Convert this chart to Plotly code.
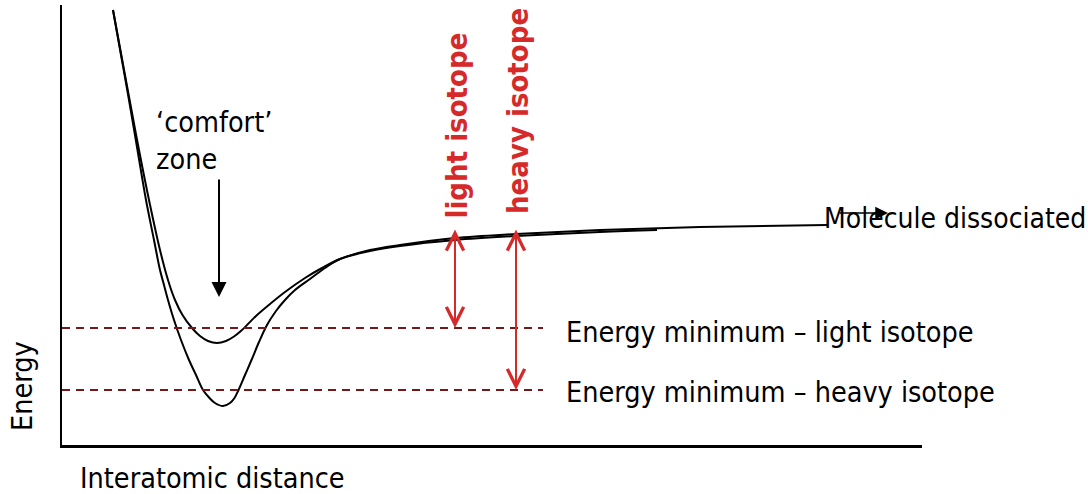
import plotly.graph_objects as go

# Potential energy curves (arbitrary units): interatomic distance vs energy
light_r = [0.51, 0.593, 0.676, 0.77, 0.87, 0.98, 1.06, 1.13, 1.205, 1.30, 1.38,
           1.46, 1.55, 1.64, 1.72, 1.80, 1.94, 2.08, 2.23, 2.43, 2.60, 2.78, 3.08,
           3.38, 3.93, 4.54, 5.38, 6.38, 7.65]
light_e = [4.35, 3.90, 3.45, 2.95, 2.45, 1.95, 1.65, 1.45, 1.30, 1.17, 1.09,
           1.04, 1.02, 1.04, 1.085, 1.15, 1.29, 1.41, 1.53, 1.67, 1.77, 1.86, 1.95,
           2.00, 2.07, 2.11, 2.15, 2.18, 2.20]

heavy_r = [0.51, 0.59, 0.67, 0.755, 0.84, 0.92, 0.98, 1.02, 1.06, 1.12, 1.19, 1.27,
           1.34, 1.41, 1.475, 1.53, 1.61, 1.68, 1.725, 1.765, 1.83, 1.895, 1.97, 2.05,
           2.14, 2.23, 2.33, 2.48, 2.63, 2.78, 3.08, 3.38, 3.93, 4.54, 5.38, 5.95]
heavy_e = [4.35, 3.90, 3.45, 2.95, 2.45, 2.05, 1.75, 1.60, 1.45, 1.25, 1.05, 0.85,
           0.70, 0.55, 0.47, 0.42, 0.39, 0.42, 0.47, 0.55, 0.70, 0.85, 1.03, 1.20,
           1.34, 1.45, 1.55, 1.66, 1.77, 1.86, 1.94, 1.99, 2.05, 2.09, 2.13, 2.15]

# Zero-point energy levels and the dissociation limit
level_names = ["light isotope", "heavy isotope"]
level_energy = [1.17, 0.55]
level_span = [0.0, 4.81]
dissociation_energy = 2.17
gap_arrow_r = [3.93, 4.54]

# "comfort zone" pointer and dissociation pointer
comfort_r = 1.57
comfort_from, comfort_to = 2.67, 1.48
dissoc_from, dissoc_to, dissoc_e = 7.76, 8.26, 2.32

RED = "#d62a2a"
DARKRED = "#741818"
FONT = "DejaVu Sans Condensed, DejaVu Sans"
FS = 28.5

fig = go.Figure()

for r, e in ((light_r, light_e), (heavy_r, heavy_e)):
    fig.add_trace(go.Scatter(x=r, y=e, mode="lines",
                             line=dict(color="black", width=2, shape="spline", smoothing=1.0),
                             hoverinfo="skip", showlegend=False))

for e in level_energy:
    fig.add_trace(go.Scatter(x=level_span, y=[e, e], mode="lines",
                             line=dict(color=DARKRED, width=2.2, dash="8px,6px"),
                             hoverinfo="skip", showlegend=False))

annotations = []

# double-headed arrows between each energy minimum and the dissociation limit
for r, e in zip(gap_arrow_r, level_energy):
    annotations.append(dict(
        x=r, y=e, ax=r, ay=dissociation_energy, xref="x", yref="y",
        axref="x", ayref="y", text="", showarrow=True,
        arrowside="end+start", arrowhead=5, startarrowhead=5,
        arrowsize=1.7, startarrowsize=1.7, arrowwidth=2, arrowcolor=RED,
        standoff=0, startstandoff=0))

# vertical red labels
label_pos = [(3.94, 3.195), (4.56, 3.34)]
for name, (r, e) in zip(level_names, label_pos):
    annotations.append(dict(
        x=r, y=e, xref="x", yref="y", text=f"<b>{name}</b>", textangle=-90,
        showarrow=False, font=dict(family=FONT, size=29, color=RED),
        xanchor="center", yanchor="middle"))

# level captions
caption_y = [1.13, 0.53]
for name, y in zip(level_names, caption_y):
    annotations.append(dict(x=5.02, y=y, xref="x", yref="y",
                            text=f"Energy minimum – {name}", showarrow=False,
                            xanchor="left", yanchor="middle",
                            font=dict(family=FONT, size=FS, color="black")))

# comfort zone
annotations.append(dict(x=comfort_r, y=comfort_to, ax=comfort_r, ay=comfort_from,
                        xref="x", yref="y", axref="x", ayref="y", text="",
                        showarrow=True, arrowhead=2, arrowsize=1.5, arrowwidth=2,
                        arrowcolor="black", standoff=0))
annotations.append(dict(x=0.92, y=3.04, xref="x", yref="y",
                        text="‘comfort’<br>zone", showarrow=False, align="left",
                        xanchor="left", yanchor="middle",
                        font=dict(family=FONT, size=FS, color="black")))

# dissociation
annotations.append(dict(x=dissoc_to, y=dissoc_e, ax=dissoc_from, ay=dissoc_e,
                        xref="x", yref="y", axref="x", ayref="y", text="",
                        showarrow=True, arrowhead=2, arrowsize=1.7, arrowwidth=1.5,
                        arrowcolor="black", standoff=0))
annotations.append(dict(x=7.60, y=2.27, xref="x", yref="y",
                        text="Molecule dissociated", showarrow=False,
                        xanchor="left", yanchor="middle",
                        font=dict(family=FONT, size=28, color="black")))

# axis titles
annotations.append(dict(x=-0.0465, y=0.134, xref="paper", yref="paper",
                        text="Energy", textangle=-90, showarrow=False,
                        xanchor="center", yanchor="middle",
                        font=dict(family=FONT, size=FS, color="black")))
annotations.append(dict(x=0.019, y=-0.075, xref="paper", yref="paper",
                        text="Interatomic distance", showarrow=False,
                        xanchor="left", yanchor="middle",
                        font=dict(family=FONT, size=FS, color="black")))

fig.update_layout(
    width=1088, height=494,
    margin=dict(l=62, r=166, t=5, b=49),
    paper_bgcolor="white", plot_bgcolor="white",
    annotations=annotations,
    xaxis=dict(range=[0, 8.6], showgrid=False, zeroline=False, showticklabels=False,
               ticks="", showline=True, linecolor="black", linewidth=3),
    yaxis=dict(range=[0, 4.4], showgrid=False, zeroline=False, showticklabels=False,
               ticks="", showline=True, linecolor="black", linewidth=2),
)

fig.write_html("out.html")
